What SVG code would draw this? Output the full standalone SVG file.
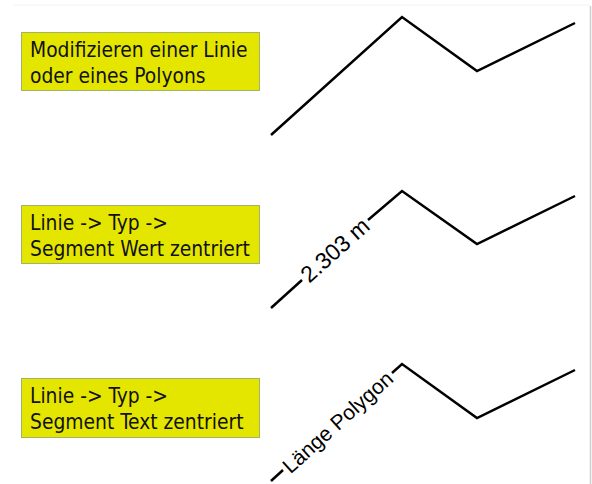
<svg xmlns="http://www.w3.org/2000/svg" width="592" height="484" viewBox="0 0 592 484">
<style>
.box{fill:#e4e600;stroke:#9fb36a;stroke-width:1}
.bt{font-family:"DejaVu Sans Condensed","DejaVu Sans",sans-serif;font-size:20.8px;fill:#111}
.ln{fill:none;stroke:#000;stroke-width:2.5;stroke-linejoin:miter}
.lbl{font-family:"Liberation Sans",Arial,sans-serif;font-size:21px;fill:#000;text-anchor:middle;dominant-baseline:central}
</style>
<rect width="592" height="484" fill="#fff"/>
<line x1="13" y1="5" x2="590" y2="5" stroke="#f2f2f2" stroke-width="1"/>
<line x1="590.5" y1="6" x2="590.5" y2="484" stroke="#cfcfcf" stroke-width="1.5"/>
<g id="box1">
<rect class="box" x="21.5" y="32.5" width="238" height="58"/>
<text class="bt" x="30" y="57">Modifizieren einer Linie</text>
<text class="bt" x="30" y="83">oder eines Polyons</text>
</g>
<g id="box2">
<rect class="box" x="21.5" y="205.5" width="238" height="58"/>
<text class="bt" x="30" y="230">Linie -&gt; Typ -&gt;</text>
<text class="bt" x="30" y="256">Segment Wert zentriert</text>
</g>
<g id="box3">
<rect class="box" x="21.5" y="378.5" width="238" height="59"/>
<text class="bt" x="30" y="403">Linie -&gt; Typ -&gt;</text>
<text class="bt" x="30" y="429">Segment Text zentriert</text>
</g>
<g id="connectors">
<polyline id="line1" class="ln" points="271,135 402,17 477,71 575,23"/>
<g id="line2">
<polyline class="ln" points="271,308 302,280"/>
<polyline class="ln" points="368,220 402,191 477,244 575,196"/>
<text class="lbl" style="font-size:23px" transform="translate(335,250) rotate(-41.8)">2.303 m</text>
</g>
<g id="line3">
<polyline class="ln" points="271,481 283,470"/>
<polyline class="ln" points="392,373 402,364 477,418 575,370"/>
<text class="lbl" transform="translate(337.5,422) rotate(-42)">Länge Polygon</text>
</g>
</g>
</svg>
